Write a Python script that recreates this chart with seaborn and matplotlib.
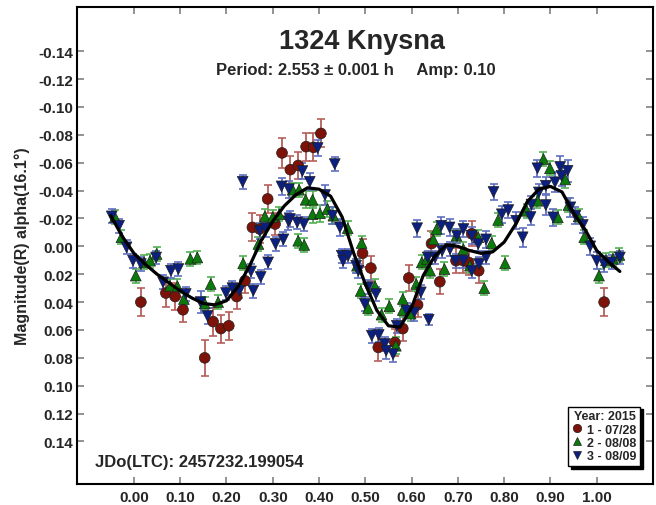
import numpy as np
import pandas as pd
import matplotlib
matplotlib.use("Agg")
import matplotlib.pyplot as plt
from matplotlib.lines import Line2D
import seaborn as sns

# ---------------- data ----------------
phase1 = [0.015, 0.069, 0.089, 0.106, 0.153, 0.171, 0.188, 0.205, 0.222, 0.240,
          0.256, 0.272, 0.289, 0.305, 0.320, 0.338, 0.355, 0.372, 0.388, 0.404,
          0.494, 0.512, 0.528, 0.564, 0.581, 0.594, 0.613, 0.643, 0.661, 0.696,
          0.712, 0.723, 0.730, 0.745, 1.016]
mag1 = [0.040, 0.0335, 0.036, 0.0455, 0.080, 0.054, 0.059, 0.057, 0.036, 0.0247,
        -0.0136, -0.0124, -0.034, -0.016, -0.067, -0.055, -0.058, -0.0715, -0.071, -0.081,
        0.005, 0.0156, 0.0725, 0.069, 0.059, 0.0227, 0.042, -0.002, 0.0254, 0.0103,
        0.0103, 0.0115, -0.009, 0.0175, 0.040]
err1 = [0.010, 0.010, 0.010, 0.009, 0.013, 0.010, 0.010, 0.010, 0.009, 0.009,
        0.010, 0.010, 0.010, 0.008, 0.011, 0.010, 0.010, 0.010, 0.010, 0.010,
        0.010, 0.009, 0.010, 0.010, 0.009, 0.009, 0.009, 0.009, 0.009, 0.009,
        0.009, 0.009, 0.009, 0.009, 0.010]

phase2 = [-0.041, -0.027, 0.004, 0.022, 0.035, 0.049, 0.078, 0.094, 0.108, 0.122,
          0.137, 0.153, 0.166, 0.182, 0.236, 0.269, 0.283, 0.300, 0.314, 0.343,
          0.355, 0.357, 0.368, 0.371, 0.386, 0.386, 0.402, 0.418, 0.431, 0.462,
          0.482, 0.490, 0.492, 0.506, 0.521, 0.535, 0.552, 0.566, 0.581, 0.581,
          0.598, 0.610, 0.622, 0.633, 0.640, 0.647, 0.654, 0.671, 0.697, 0.712,
          0.726, 0.744, 0.757, 0.773, 0.787, 0.802, 0.849, 0.872, 0.885, 0.899,
          0.916, 0.932, 0.939, 0.961, 0.973, 1.005, 1.020, 1.035, 1.049]
mag2 = [-0.021, -0.0065, 0.021, 0.0115, 0.0103, 0.0055, 0.0283, 0.0287, 0.0378, 0.009,
        0.008, 0.041, 0.027, 0.040, 0.0122, -0.0017, -0.0215, -0.021, -0.023, -0.0406,
        -0.004, -0.0406, -0.001, -0.0334, -0.0334, -0.023, -0.0237, -0.0268, -0.022, -0.013,
        0.0139, 0.032, -0.0024, 0.0443, 0.0287, 0.049, 0.043, 0.0713, 0.0378, 0.0457,
        0.0483, 0.027, 0.0115, 0.009, 0.0175, -0.005, -0.0124, 0.0163, -0.0076, 0.002,
        0.0139, -0.0065, 0.030, -0.0024, -0.0189, 0.0122, -0.0255, -0.0327, -0.0626, -0.056,
        -0.0208, -0.048, -0.0296, -0.0215, -0.0065, 0.021, 0.010, 0.009, 0.0062]
err2 = [0.005, 0.005, 0.005, 0.005, 0.005, 0.005, 0.005, 0.005, 0.005, 0.005,
        0.005, 0.005, 0.005, 0.005, 0.005, 0.005, 0.005, 0.005, 0.005, 0.005,
        0.005, 0.005, 0.005, 0.006, 0.006, 0.006, 0.006, 0.006, 0.006, 0.005,
        0.005, 0.005, 0.005, 0.005, 0.005, 0.005, 0.005, 0.006, 0.005, 0.005,
        0.005, 0.005, 0.005, 0.005, 0.005, 0.005, 0.005, 0.005, 0.005, 0.005,
        0.005, 0.005, 0.005, 0.005, 0.005, 0.005, 0.005, 0.005, 0.005, 0.005,
        0.005, 0.006, 0.005, 0.005, 0.005, 0.005, 0.005, 0.005, 0.005]

phase3 = [-0.048, -0.032, -0.016, -0.002, 0.015, 0.048, 0.063, 0.080, 0.096, 0.112,
          0.144, 0.159, 0.199, 0.213, 0.228, 0.235, 0.253, 0.258, 0.272, 0.274,
          0.285, 0.290, 0.306, 0.319, 0.323, 0.334, 0.335, 0.337, 0.353, 0.364,
          0.367, 0.380, 0.397, 0.413, 0.429, 0.434, 0.445, 0.449, 0.452, 0.463,
          0.480, 0.485, 0.499, 0.506, 0.514, 0.523, 0.529, 0.542, 0.545, 0.560,
          0.568, 0.589, 0.606, 0.612, 0.620, 0.635, 0.637, 0.651, 0.664, 0.666,
          0.682, 0.683, 0.695, 0.698, 0.712, 0.712, 0.730, 0.730, 0.744, 0.746,
          0.761, 0.761, 0.777, 0.795, 0.809, 0.826, 0.840, 0.857, 0.859, 0.872,
          0.875, 0.890, 0.890, 0.906, 0.910, 0.921, 0.924, 0.937, 0.943, 0.954,
          0.970, 0.986, 1.000, 1.016, 1.032, 1.050]
mag3 = [-0.0215, -0.0148, 0.0007, 0.0103, 0.0127, 0.008, 0.0258, 0.0175, 0.0163, 0.0342,
        0.040, 0.050, 0.0335, 0.030, 0.0318, -0.0463, 0.018, 0.0318, -0.011, 0.022,
        -0.013, 0.0115, -0.0017, -0.043, -0.005, -0.018, -0.041, -0.0196, -0.0172, -0.054,
        -0.016, -0.0463, -0.0705, -0.0368, -0.022, -0.059, -0.0136, 0.0067, 0.0103, 0.0067,
        0.0139, 0.0175, 0.0414, 0.0294, 0.0641, 0.0342, 0.0636, 0.070, 0.0749, 0.0773,
        0.057, 0.046, 0.0474, -0.013, 0.033, 0.008, 0.0527, 0.008, -0.0148, 0.0032,
        -0.0136, 0.002, 0.0103, -0.0076, -0.0124, 0.0103, -0.0076, 0.0175, -0.0017, 0.0127,
        -0.005, 0.008, -0.039, -0.023, -0.026, -0.0184, -0.0065, -0.021, -0.030, -0.056,
        -0.0387, -0.0435, -0.0296, -0.0208, -0.046, -0.057, -0.0506, -0.0542, -0.028, -0.022,
        -0.0153, 0.000, 0.0103, 0.0127, 0.0115, 0.008]
err3 = [0.005, 0.005, 0.005, 0.005, 0.005, 0.005, 0.005, 0.005, 0.005, 0.005,
        0.008, 0.006, 0.005, 0.005, 0.005, 0.005, 0.005, 0.005, 0.006, 0.005,
        0.006, 0.005, 0.005, 0.006, 0.005, 0.006, 0.006, 0.006, 0.005, 0.006,
        0.005, 0.006, 0.006, 0.007, 0.006, 0.005, 0.006, 0.005, 0.005, 0.005,
        0.005, 0.005, 0.005, 0.005, 0.005, 0.005, 0.005, 0.005, 0.006, 0.006,
        0.005, 0.005, 0.006, 0.006, 0.005, 0.005, 0.004, 0.005, 0.006, 0.005,
        0.006, 0.005, 0.005, 0.005, 0.006, 0.005, 0.006, 0.005, 0.005, 0.005,
        0.006, 0.005, 0.006, 0.006, 0.006, 0.006, 0.007, 0.006, 0.006, 0.006,
        0.006, 0.006, 0.007, 0.006, 0.007, 0.008, 0.007, 0.008, 0.007, 0.006,
        0.006, 0.006, 0.006, 0.006, 0.005, 0.005]

fit_phase = [-0.05, -0.025, 0.00, 0.025, 0.05, 0.075, 0.10, 0.125, 0.15, 0.175,
             0.20, 0.225, 0.25, 0.275, 0.30, 0.325, 0.35, 0.375, 0.40, 0.425,
             0.45, 0.475, 0.50, 0.525, 0.55, 0.575, 0.60, 0.625, 0.65, 0.675,
             0.70, 0.725, 0.75, 0.775, 0.80, 0.825, 0.85, 0.875, 0.90, 0.925,
             0.95, 0.975, 1.00, 1.025, 1.05]
fit_mag = [-0.022, -0.007, 0.005, 0.013, 0.020, 0.026, 0.032, 0.037, 0.041, 0.042,
           0.039, 0.029, 0.014, -0.004, -0.018, -0.029, -0.037, -0.042, -0.041, -0.036,
           -0.021, 0.005, 0.027, 0.046, 0.057, 0.058, 0.044, 0.021, 0.007, -0.001,
           0.000, 0.003, 0.005, 0.004, -0.003, -0.016, -0.032, -0.041, -0.043, -0.039,
           -0.024, -0.012, 0.003, 0.011, 0.018]

session_labels = ["1 - 07/28", "2 - 08/08", "3 - 08/09"]
x_ticks = [0.00, 0.10, 0.20, 0.30, 0.40, 0.50, 0.60, 0.70, 0.80, 0.90, 1.00]
y_ticks = [-0.14, -0.12, -0.10, -0.08, -0.06, -0.04, -0.02, 0.00, 0.02, 0.04,
           0.06, 0.08, 0.10, 0.12, 0.14]

title_text = "1324 Knysna"
subtitle_text = "Period: 2.553 \u00b1 0.001 h     Amp: 0.10"
jd_text = "JDo(LTC): 2457232.199054"
ylabel_text = "Magnitude(R) alpha(16.1\u00b0)"
legend_title = "Year: 2015"

# ---------------- frame ----------------
df = pd.concat([
    pd.DataFrame({"phase": phase1, "mag": mag1, "err": err1, "session": session_labels[0]}),
    pd.DataFrame({"phase": phase2, "mag": mag2, "err": err2, "session": session_labels[1]}),
    pd.DataFrame({"phase": phase3, "mag": mag3, "err": err3, "session": session_labels[2]}),
], ignore_index=True)
fit_df = pd.DataFrame({"phase": fit_phase, "mag": fit_mag})

sns.set_style("ticks")
plt.rcParams["font.family"] = ["Liberation Sans", "DejaVu Sans"]
plt.rcParams["font.weight"] = "bold"

fig = plt.figure(figsize=(6.56, 5.06), dpi=100)
ax = fig.add_axes([77 / 656, 1 - 485 / 506, (652.7 - 77) / 656, (485 - 8) / 506])

fill_cols = {session_labels[0]: "#7d1208", session_labels[1]: "#0a7a0a", session_labels[2]: "#0b1f80"}
bar_cols = {session_labels[0]: "#b5605a", session_labels[1]: "#55b055", session_labels[2]: "#6070c0"}
markers = {session_labels[0]: "o", session_labels[1]: "^", session_labels[2]: "v"}

for s in session_labels:
    d = df[df.session == s]
    ax.errorbar(d.phase, d.mag, yerr=d.err, fmt="none", ecolor=bar_cols[s],
                elinewidth=1.3, capsize=3, capthick=1.2, zorder=1)

sns.scatterplot(data=df, x="phase", y="mag", hue="session", style="session",
                palette=fill_cols, markers=markers, s=60, edgecolor="#202020",
                linewidth=0.5, legend=False, ax=ax, zorder=2)

sns.lineplot(data=fit_df, x="phase", y="mag", color="black", linewidth=2.3,
             ax=ax, zorder=3)

ax.set_xlim(-0.123, 1.121)
ax.set_ylim(0.1705, -0.1717)
ax.set_xticks(x_ticks)
ax.set_xticklabels([f"{v:.2f}" for v in x_ticks])
ax.set_yticks(y_ticks)
ax.set_yticklabels([f"{v:.2f}" if abs(v) > 1e-9 else "0.00" for v in y_ticks])
ax.tick_params(axis="both", direction="in", length=5, width=1.2, color="#808080",
               labelsize=11, pad=3, top=True, right=True)
ax.tick_params(axis="x", pad=4)
for lab in ax.get_xticklabels() + ax.get_yticklabels():
    lab.set_fontweight("bold")
for sp in ax.spines.values():
    sp.set_linewidth(1.5)
    sp.set_color("black")

ax.set_xlabel("")
ax.set_ylabel(ylabel_text, fontsize=11.5, fontweight="bold")
ax.yaxis.set_label_coords(-0.082, 0.5)

ax.text(0.495, 0.9287, title_text, transform=ax.transAxes, ha="center", va="center",
        fontsize=19.5, fontweight="bold")
ax.text(0.4846, 0.870, subtitle_text, transform=ax.transAxes, ha="center", va="center",
        fontsize=12, fontweight="bold")
ax.text(0.031, 0.048, jd_text, transform=ax.transAxes, ha="left", va="center",
        fontsize=12, fontweight="bold")

handles = [Line2D([], [], linestyle="none", marker=markers[s], markersize=6,
                  markerfacecolor=fill_cols[s], markeredgecolor="#202020",
                  markeredgewidth=0.5) for s in session_labels]
leg = ax.legend(handles, session_labels, title=legend_title, loc="lower right",
                bbox_to_anchor=(0.978, 0.038), frameon=True, fancybox=False,
                shadow={"color": "black", "alpha": 1.0}, edgecolor="black",
                prop={"weight": "bold", "size": 9}, handlelength=0.8,
                handletextpad=0.4, borderpad=0.3, labelspacing=0.1,
                borderaxespad=0, alignment="right")
leg.get_title().set_fontweight("bold")
leg.get_title().set_fontsize(9)
leg.get_frame().set_linewidth(1.0)

fig.savefig("out.png", dpi=100)
